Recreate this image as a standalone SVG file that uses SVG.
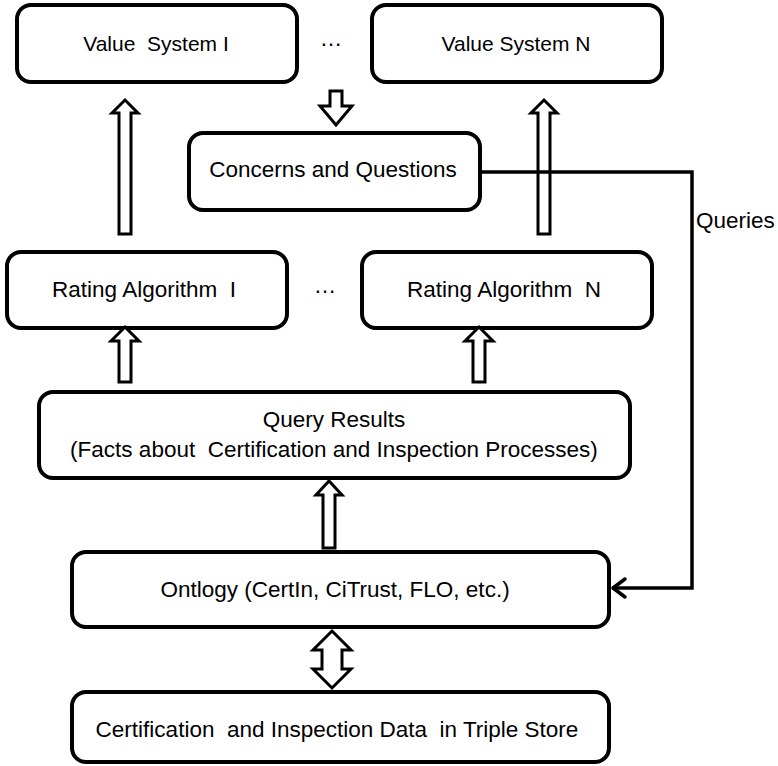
<svg xmlns="http://www.w3.org/2000/svg" width="778" height="766" viewBox="0 0 778 766">
  <style>
    .box { fill: #fff; stroke: #000; stroke-width: 4; }
    .lbl { font-family: "Liberation Sans", "Open Sans", sans-serif; font-size: 22.5px; fill: #000; text-anchor: middle; white-space: pre; }
    .sm { font-size: 21px; }
    .blk { fill: #fff; stroke: #000; stroke-width: 3; stroke-linejoin: miter; }
    .line { fill: none; stroke: #000; stroke-width: 3.5; }
  </style>
  <rect width="778" height="766" fill="#fff"/>

  <g id="value-system-1">
    <rect class="box" x="17" y="5" width="280" height="77" rx="14"/>
    <text class="lbl sm" x="156" y="51" xml:space="preserve">Value  System I</text>
  </g>
  <text class="lbl" x="331" y="46">…</text>
  <g id="value-system-n">
    <rect class="box" x="372" y="5" width="290" height="77" rx="14"/>
    <text class="lbl sm" x="516" y="51">Value System N</text>
  </g>

  <g id="concerns">
    <rect class="box" x="189" y="133" width="291" height="77" rx="14"/>
    <text class="lbl" x="333" y="177">Concerns and Questions</text>
  </g>

  <g id="rating-1">
    <rect class="box" x="7" y="252" width="280" height="76" rx="14"/>
    <text class="lbl" x="144" y="297" xml:space="preserve">Rating Algorithm  I</text>
  </g>
  <text class="lbl" x="325" y="293">…</text>
  <g id="rating-n">
    <rect class="box" x="362" y="252" width="290" height="76" rx="14"/>
    <text class="lbl" x="504" y="297" xml:space="preserve">Rating Algorithm  N</text>
  </g>

  <g id="query-results">
    <rect class="box" x="39" y="392" width="591" height="86" rx="14"/>
    <text class="lbl" x="334" y="427">Query Results</text>
    <text class="lbl" x="334" y="457" xml:space="preserve">(Facts about  Certification and Inspection Processes)</text>
  </g>

  <g id="ontology">
    <rect class="box" x="72" y="552" width="537" height="75" rx="14"/>
    <text class="lbl" x="335" y="597">Ontlogy (CertIn, CiTrust, FLO, etc.)</text>
  </g>

  <g id="triple-store">
    <rect class="box" x="72" y="692" width="537" height="70" rx="14"/>
    <text class="lbl" x="337" y="737" xml:space="preserve">Certification  and Inspection Data  in Triple Store</text>
  </g>

  <g id="connectors">
    <!-- block arrow: value systems down to concerns -->
    <path class="blk" d="M330,91 L342,91 L342,106 L352,106 L336,125 L320,106 L330,106 Z"/>
    <!-- tall block arrows: rating algorithms up to value systems -->
    <path class="blk" d="M119,234 L119,113 L112,113 L125,100 L138,113 L131,113 L131,234 Z"/>
    <path class="blk" d="M538,234 L538,113 L531,113 L544,100 L557,113 L550,113 L550,234 Z"/>
    <!-- short block arrows: query results up to rating algorithms -->
    <path class="blk" d="M119,382 L119,341 L111,341 L125,327 L139,341 L131,341 L131,382 Z"/>
    <path class="blk" d="M473,382 L473,341 L465,341 L479,327 L493,341 L485,341 L485,382 Z"/>
    <!-- ontology up to query results -->
    <path class="blk" d="M323,548 L323,495 L316,495 L329,481 L342,495 L335,495 L335,548 Z"/>
    <!-- two-way arrow between ontology and triple store -->
    <path class="blk" d="M332,631 L351,650 L342,650 L342,669 L351,669 L332,688 L313,669 L322,669 L322,650 L313,650 Z"/>
    <!-- queries path with open arrowhead at the ontology -->
    <path class="line" d="M480,172 L692,172 L692,588 L613,588"/>
    <path class="line" d="M625,579 L613,588 L625,597" stroke-linejoin="round" stroke-linecap="round"/>
    <text class="lbl" x="696" y="228" style="text-anchor:start">Queries</text>
  </g>
</svg>
